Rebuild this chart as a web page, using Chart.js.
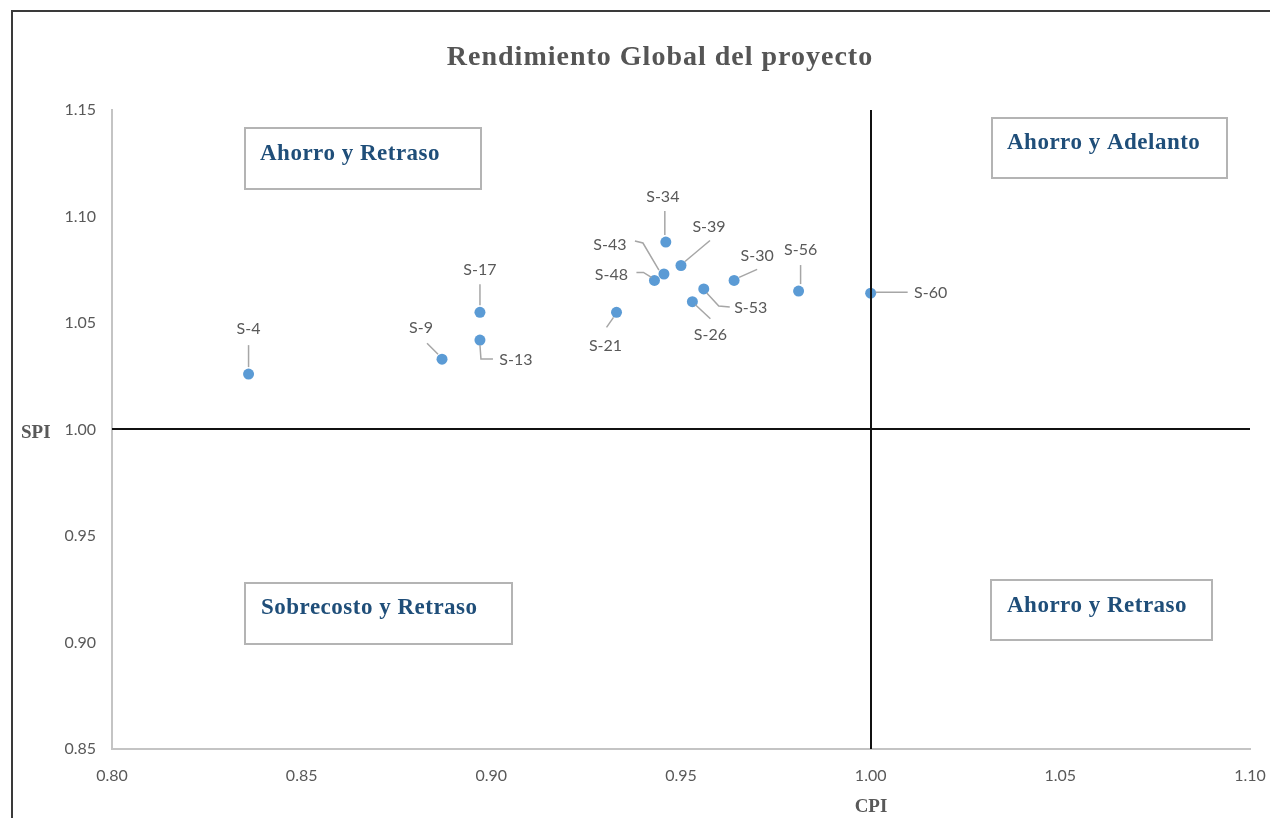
<!DOCTYPE html>
<html>
<head>
<meta charset="utf-8">
<title>Rendimiento Global del proyecto</title>
<script src="https://cdn.jsdelivr.net/npm/chart.js@4/dist/chart.umd.min.js"></script>
<style>
  html, body { margin: 0; padding: 0; background: #ffffff; }
  #wrap { width: 1270px; height: 818px; position: relative; }
</style>
</head>
<body>
<div id="wrap"><canvas id="chart" width="1270" height="818"></canvas></div>
<script>
// Sprint labels and their performance indices
const pointNames = ['S-4', 'S-9', 'S-13', 'S-17', 'S-21', 'S-48', 'S-43', 'S-34', 'S-39', 'S-53', 'S-26', 'S-30', 'S-56', 'S-60'];
const cpiValues  = [0.836, 0.887, 0.897, 0.897, 0.933, 0.943, 0.9455, 0.946, 0.950, 0.956, 0.953, 0.964, 0.981, 1.000];
const spiValues  = [1.026, 1.033, 1.042, 1.055, 1.055, 1.070, 1.073, 1.088, 1.077, 1.066, 1.060, 1.070, 1.065, 1.064];

// Axis ticks
const xTickValues = [0.80, 0.85, 0.90, 0.95, 1.00, 1.05, 1.10];
const yTickValues = [0.85, 0.90, 0.95, 1.00, 1.05, 1.10, 1.15];

// Quadrant reference values and captions
const cpiThreshold = 1.00;
const spiThreshold = 1.00;
const quadrantNames = ['Ahorro y Retraso', 'Ahorro y Adelanto', 'Sobrecosto y Retraso', 'Ahorro y Retraso'];

const chartTitle = 'Rendimiento Global del proyecto';
const xAxisTitle = 'CPI';
const yAxisTitle = 'SPI';

// Placement of each data label (offset from its point) and its leader line
const labelPlacement = {
  'S-4':  { at: [0, -45],     path: [[0, -29], [0, -7]] },
  'S-9':  { at: [-21, -31],   path: [[-15, -16], [-4, -5]] },
  'S-13': { at: [36, 20],     path: [[0, 5], [1, 19], [13, 19]] },
  'S-17': { at: [0, -43],     path: [[0, -28], [0, -7]] },
  'S-21': { at: [-11, 33],    path: [[-10, 15], [-3, 5]] },
  'S-48': { at: [-43, -6],    path: [[-18, -8], [-11, -8], [-3, -3]] },
  'S-43': { at: [-54, -29],   path: [[-29, -33], [-21, -31], [-5, -4]] },
  'S-34': { at: [-3, -45],    path: [[-1, -31], [-1, -7]] },
  'S-39': { at: [28, -39],    path: [[29, -25], [4, -4]] },
  'S-53': { at: [47, 19],     path: [[3, 4], [15, 17], [26, 18]] },
  'S-26': { at: [18, 33],     path: [[3, 3], [18, 17]] },
  'S-30': { at: [23, -25],    path: [[23, -11], [5, -3]] },
  'S-56': { at: [2, -41],     path: [[2, -26], [2, -7]] },
  'S-60': { at: [60, 0],      path: [[5, -1], [37, -1]] }
};

// Caption boxes (canvas pixels) for the four quadrants
const captionBoxes = [
  { x: 245, y: 128, w: 236, h: 61, tx: 260, ty: 160 },
  { x: 992, y: 118, w: 235, h: 60, tx: 1007, ty: 149 },
  { x: 245, y: 583, w: 267, h: 61, tx: 261, ty: 614 },
  { x: 991, y: 580, w: 221, h: 60, tx: 1007, ty: 612 }
];

const serifBold = '"Liberation Serif", "Times New Roman", serif';
const sansFont = 'Lato, "Open Sans", sans-serif';

const decorations = {
  id: 'decorations',
  beforeDraw(chart) {
    const ctx = chart.ctx;
    ctx.save();
    ctx.fillStyle = '#ffffff';
    ctx.fillRect(0, 0, chart.width, chart.height);
    // outer frame
    ctx.strokeStyle = '#3a3a3a';
    ctx.lineWidth = 2;
    ctx.beginPath();
    ctx.moveTo(12, chart.height + 2);
    ctx.lineTo(12, 11);
    ctx.lineTo(chart.width + 2, 11);
    ctx.stroke();
    // title
    ctx.fillStyle = '#555555';
    ctx.font = 'bold 28px ' + serifBold;
    ctx.letterSpacing = '1px';
    ctx.textAlign = 'center';
    ctx.textBaseline = 'alphabetic';
    ctx.fillText(chartTitle, 660, 65);
    ctx.restore();
  },
  afterDatasetsDraw(chart) {
    const ctx = chart.ctx;
    const xs = chart.scales.x, ys = chart.scales.y;
    const area = chart.chartArea;
    ctx.save();

    // quadrant dividers
    ctx.strokeStyle = '#111111';
    ctx.lineWidth = 2;
    ctx.beginPath();
    const vx = Math.round(xs.getPixelForValue(cpiThreshold));
    ctx.moveTo(vx, area.top);
    ctx.lineTo(vx, area.bottom);
    const hy = Math.round(ys.getPixelForValue(spiThreshold));
    ctx.moveTo(area.left, hy);
    ctx.lineTo(area.right, hy);
    ctx.stroke();

    // leader lines and data labels
    const meta = chart.getDatasetMeta(0);
    ctx.strokeStyle = '#a6a6a6';
    ctx.lineWidth = 1.5;
    ctx.fillStyle = '#595959';
    ctx.font = '16px ' + sansFont;
    ctx.textAlign = 'center';
    ctx.textBaseline = 'middle';
    meta.data.forEach((pt, i) => {
      const place = labelPlacement[pointNames[i]];
      if (!place) return;
      ctx.beginPath();
      place.path.forEach(([dx, dy], k) => {
        if (k === 0) ctx.moveTo(pt.x + dx, pt.y + dy);
        else ctx.lineTo(pt.x + dx, pt.y + dy);
      });
      ctx.stroke();
      ctx.fillText(pointNames[i], pt.x + place.at[0], pt.y + place.at[1]);
    });

    // quadrant captions
    captionBoxes.forEach((b, i) => {
      ctx.fillStyle = '#ffffff';
      ctx.fillRect(b.x, b.y, b.w, b.h);
      ctx.strokeStyle = '#b4b4b4';
      ctx.lineWidth = 2;
      ctx.strokeRect(b.x, b.y, b.w, b.h);
      ctx.fillStyle = '#1f4e79';
      ctx.font = 'bold 23px ' + serifBold;
      ctx.letterSpacing = '0.5px';
      ctx.textAlign = 'left';
      ctx.textBaseline = 'alphabetic';
      ctx.fillText(quadrantNames[i], b.tx, b.ty);
    });

    // axis titles
    ctx.letterSpacing = '0px';
    ctx.fillStyle = '#595959';
    ctx.font = 'bold 19px ' + serifBold;
    ctx.textAlign = 'left';
    ctx.fillText(yAxisTitle, 21, 438);
    ctx.textAlign = 'center';
    ctx.fillText(xAxisTitle, vx, 812);
    ctx.restore();
  }
};

const points = cpiValues.map((v, i) => ({ x: v, y: spiValues[i] }));

new Chart(document.getElementById('chart'), {
  type: 'scatter',
  data: {
    datasets: [{
      label: 'Sprints',
      data: points,
      pointRadius: 5.5,
      pointHoverRadius: 5.5,
      backgroundColor: '#5b9bd5',
      borderColor: '#5b9bd5',
      borderWidth: 0
    }]
  },
  options: {
    responsive: false,
    animation: false,
    devicePixelRatio: 1,
    events: [],
    layout: { padding: { top: 110, right: 20, left: 0, bottom: 0 } },
    plugins: {
      legend: { display: false },
      title: { display: false },
      tooltip: { enabled: false }
    },
    scales: {
      x: {
        type: 'linear',
        min: 0.80,
        max: 1.10,
        afterBuildTicks: s => { s.ticks = xTickValues.map(v => ({ value: v })); },
        afterFit: s => { s.height = 69; s.paddingLeft = 0; s.paddingRight = 0; },
        grid: { display: false, drawTicks: false },
        border: { display: true, color: '#c4c4c4', width: 2 },
        ticks: {
          padding: 17,
          color: '#595959',
          font: { family: sansFont, size: 16 },
          maxRotation: 0,
          callback: v => Number(v).toFixed(2)
        }
      },
      y: {
        type: 'linear',
        min: 0.85,
        max: 1.15,
        afterBuildTicks: s => { s.ticks = yTickValues.map(v => ({ value: v })); },
        afterFit: s => { s.width = 112; s.paddingTop = 0; s.paddingBottom = 0; },
        grid: { display: false, drawTicks: false },
        border: { display: true, color: '#c4c4c4', width: 2 },
        ticks: {
          padding: 16,
          color: '#595959',
          font: { family: sansFont, size: 16 },
          callback: v => Number(v).toFixed(2)
        }
      }
    }
  },
  plugins: [decorations]
});
</script>
</body>
</html>
